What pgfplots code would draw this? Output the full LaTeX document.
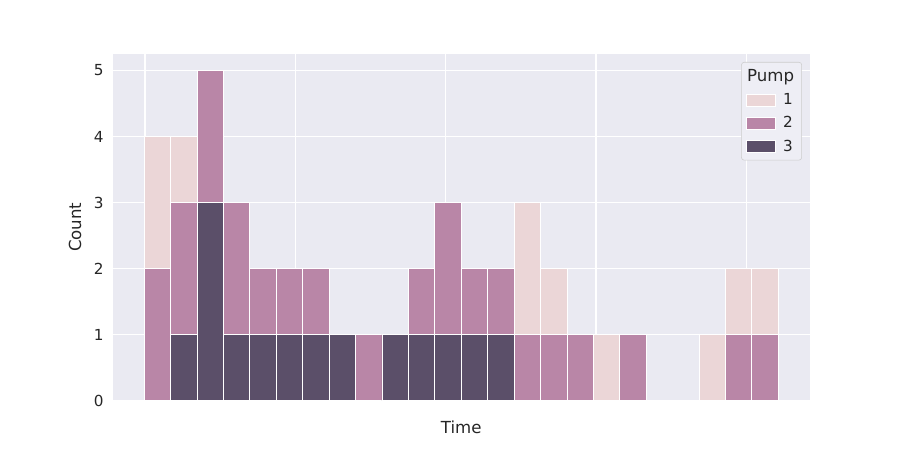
\documentclass[border=0pt]{standalone}
\usepackage{pgfplots}
\pgfplotsset{compat=1.18}
\usepackage{pgfplotstable}
\usepackage{fontspec}
\setmainfont{DejaVu Sans}
\definecolor{bg}{HTML}{EAEAF2}
\definecolor{legbg}{HTML}{EEEEF5}
\definecolor{pone}{HTML}{EBD6D7}
\definecolor{ptwo}{HTML}{B986A7}
\definecolor{pthree}{HTML}{5B4F69}
\definecolor{txt}{HTML}{262626}
\pgfplotsset{every axis plot/.append style={legend image code/.code={\draw[##1, sharp corners] (0bp,-4.3bp) rectangle (21bp,4.3bp);}}}
% bin centers (bin width 1), counts per pump
\pgfplotstableread{
x y
0.5 4
1.5 4
14.5 3
15.5 2
17.5 1
21.5 1
22.5 2
23.5 2
}\pumpone
\pgfplotstableread{
x y
0.5 2
1.5 3
2.5 5
3.5 3
4.5 2
5.5 2
6.5 2
8.5 1
10.5 2
11.5 3
12.5 2
13.5 2
14.5 1
15.5 1
16.5 1
18.5 1
22.5 1
23.5 1
}\pumptwo
\pgfplotstableread{
x y
1.5 1
2.5 3
3.5 1
4.5 1
5.5 1
6.5 1
7.5 1
9.5 1
10.5 1
11.5 1
12.5 1
13.5 1
}\pumpthree
\begin{document}
\begin{tikzpicture}
\path[use as bounding box] (0,0) rectangle (648bp,324bp);
\begin{axis}[
  at={(81bp,35.64bp)}, anchor=south west,
  scale only axis, width=502.2bp, height=249.48bp,
  xmin=-1.2, xmax=25.2, ymin=0, ymax=5.25,
  axis background/.style={fill=bg},
  axis line style={draw=none},
  major tick style={draw=none},
  grid=major, major grid style={white, line width=1.1bp},
  xtick={0.03,5.72,11.41,17.1,22.79}, xticklabels={},
  ytick={0,1,2,3,4,5},
  /pgf/number format/assume math mode=true,
  yticklabel style={font=\fontsize{11}{13}\selectfont, text=txt},
  y tick label style={xshift=-3bp},
  xlabel={Time}, ylabel={Count},
  label style={font=\fontsize{12}{14}\selectfont, text=txt},
  ylabel style={yshift=2bp},
  xlabel style={yshift=0bp},
  ybar, bar width=1,
  legend style={at={(0.9885,0.9769)}, anchor=north east,
    draw=black!20, fill=legbg, rounded corners=2bp,
    font=\fontsize{11}{13}\selectfont, text=txt, row sep=3.2bp,
    inner xsep=3.5bp, inner ysep=3bp,
    /tikz/every odd column/.append style={column sep=3bp}},
  legend cell align=left,
]
\addlegendimage{empty legend}
\addlegendentry{\hspace{-26bp}\fontsize{12}{14}\selectfont Pump}
\addplot[bar shift=0pt, fill=pone, draw=white, line width=0.6bp] table[x=x,y=y]{\pumpone};
\addlegendentry{1}
\addplot[bar shift=0pt, fill=ptwo, draw=white, line width=0.6bp] table[x=x,y=y]{\pumptwo};
\addlegendentry{2}
\addplot[bar shift=0pt, fill=pthree, draw=white, line width=0.6bp] table[x=x,y=y]{\pumpthree};
\addlegendentry{3}
\end{axis}
\end{tikzpicture}
\end{document}
